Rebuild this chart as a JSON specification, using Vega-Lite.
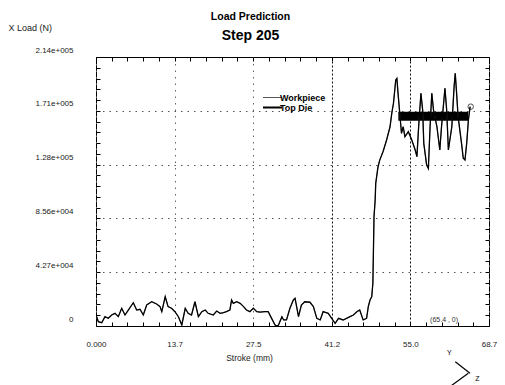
{
  "$schema": "https://vega.github.io/schema/vega-lite/v6.json",
  "width": 393,
  "height": 269,
  "autosize": "none",
  "padding": {"left": 96, "top": 57, "right": 16, "bottom": 59},
  "background": "white",
  "title": {
    "text": "Load Prediction",
    "subtitle": "Step 205",
    "font": "Liberation Sans",
    "fontSize": 10.5,
    "fontWeight": "bold",
    "color": "black",
    "subtitleFont": "Liberation Sans",
    "subtitleFontSize": 14,
    "subtitleFontWeight": "bold",
    "subtitleColor": "black",
    "subtitlePadding": 7,
    "anchor": "middle",
    "frame": "group",
    "dx": -42,
    "offset": -20
  },
  "config": {
    "view": {"stroke": "black", "strokeWidth": 1},
    "axis": {
      "labelFont": "Liberation Sans",
      "labelFontSize": 8,
      "labelColor": "#222",
      "titleFont": "Liberation Sans",
      "titleFontWeight": "normal",
      "titleColor": "#222",
      "tickColor": "black",
      "tickWidth": 1,
      "domain": false,
      "labelOverlap": false,
      "labelFlush": false
    }
  },
  "datasets": {
    "curve": [
      {"stroke": 0.12, "load": 7400}, {"stroke": 0.4, "load": 3400}, {"stroke": 1.0, "load": 2600},
      {"stroke": 1.57, "load": 7400}, {"stroke": 2.15, "load": 6100}, {"stroke": 2.74, "load": 8750},
      {"stroke": 3.32, "load": 10100}, {"stroke": 3.9, "load": 7400}, {"stroke": 4.49, "load": 14100},
      {"stroke": 5.07, "load": 8750}, {"stroke": 5.65, "load": 12700}, {"stroke": 6.52, "load": 18500},
      {"stroke": 7.11, "load": 12700}, {"stroke": 7.69, "load": 13300}, {"stroke": 8.27, "load": 8750},
      {"stroke": 8.86, "load": 16700}, {"stroke": 9.73, "load": 19300}, {"stroke": 10.6, "load": 17500},
      {"stroke": 11.2, "load": 15400}, {"stroke": 11.5, "load": 11400}, {"stroke": 12.1, "load": 23300},
      {"stroke": 12.6, "load": 15400}, {"stroke": 13.2, "load": 14100}, {"stroke": 13.8, "load": 11400},
      {"stroke": 14.4, "load": 7400}, {"stroke": 15.0, "load": 800}, {"stroke": 15.6, "load": 14100},
      {"stroke": 16.1, "load": 10100}, {"stroke": 16.7, "load": 8750}, {"stroke": 17.3, "load": 19300},
      {"stroke": 17.9, "load": 7400}, {"stroke": 18.5, "load": 11400}, {"stroke": 19.1, "load": 12700},
      {"stroke": 19.6, "load": 10100}, {"stroke": 20.5, "load": 8750}, {"stroke": 21.1, "load": 11900},
      {"stroke": 21.7, "load": 10100}, {"stroke": 22.3, "load": 10600}, {"stroke": 22.8, "load": 11400},
      {"stroke": 23.4, "load": 12700}, {"stroke": 23.7, "load": 20700}, {"stroke": 24.0, "load": 18000},
      {"stroke": 24.6, "load": 19300}, {"stroke": 25.2, "load": 18000}, {"stroke": 25.8, "load": 15400},
      {"stroke": 26.3, "load": 12700}, {"stroke": 26.9, "load": 11400}, {"stroke": 27.5, "load": 14100},
      {"stroke": 28.1, "load": 11400}, {"stroke": 28.7, "load": 11100}, {"stroke": 29.5, "load": 11400},
      {"stroke": 30.1, "load": 11400}, {"stroke": 30.7, "load": 6100}, {"stroke": 31.3, "load": 800},
      {"stroke": 31.6, "load": 0}, {"stroke": 31.9, "load": 800}, {"stroke": 32.5, "load": 7400},
      {"stroke": 32.8, "load": 4800}, {"stroke": 33.3, "load": 4800}, {"stroke": 33.9, "load": 14100},
      {"stroke": 34.5, "load": 20700}, {"stroke": 34.8, "load": 22000}, {"stroke": 35.4, "load": 7400},
      {"stroke": 35.9, "load": 16700}, {"stroke": 36.5, "load": 19300}, {"stroke": 37.4, "load": 18900},
      {"stroke": 38.0, "load": 15400}, {"stroke": 38.6, "load": 6100}, {"stroke": 39.2, "load": 4800},
      {"stroke": 39.7, "load": 11400}, {"stroke": 40.6, "load": 10100}, {"stroke": 41.2, "load": 6100},
      {"stroke": 41.8, "load": 2100}, {"stroke": 42.4, "load": 6100}, {"stroke": 43.2, "load": 4800},
      {"stroke": 43.8, "load": 6100}, {"stroke": 44.4, "load": 7400}, {"stroke": 45.0, "load": 8750},
      {"stroke": 45.6, "load": 11400}, {"stroke": 46.1, "load": 12700}, {"stroke": 46.7, "load": 4800},
      {"stroke": 47.3, "load": 6100}, {"stroke": 47.6, "load": 15400}, {"stroke": 47.9, "load": 20700},
      {"stroke": 48.2, "load": 23300}, {"stroke": 48.4, "load": 34000}, {"stroke": 48.5, "load": 60500},
      {"stroke": 48.6, "load": 87000}, {"stroke": 48.8, "load": 100200}, {"stroke": 48.9, "load": 113500},
      {"stroke": 49.3, "load": 126700}, {"stroke": 49.6, "load": 132000}, {"stroke": 50.2, "load": 139000},
      {"stroke": 50.8, "load": 148000}, {"stroke": 51.4, "load": 158500}, {"stroke": 51.7, "load": 169200},
      {"stroke": 52.0, "load": 177200}, {"stroke": 52.4, "load": 195700}, {"stroke": 52.6, "load": 197000},
      {"stroke": 52.8, "load": 185100}, {"stroke": 53.1, "load": 169200}, {"stroke": 53.4, "load": 153300},
      {"stroke": 53.7, "load": 158500}, {"stroke": 54.0, "load": 150600}, {"stroke": 54.6, "load": 154600},
      {"stroke": 55.2, "load": 148000}, {"stroke": 55.8, "load": 140000}, {"stroke": 56.1, "load": 134700},
      {"stroke": 56.4, "load": 158500}, {"stroke": 56.8, "load": 185100}, {"stroke": 57.1, "load": 171800},
      {"stroke": 57.3, "load": 145300}, {"stroke": 57.8, "load": 128100}, {"stroke": 58.1, "load": 125400},
      {"stroke": 58.4, "load": 158500}, {"stroke": 58.7, "load": 185100}, {"stroke": 59.0, "load": 171800},
      {"stroke": 59.6, "load": 158500}, {"stroke": 60.1, "load": 140000}, {"stroke": 60.4, "load": 158500},
      {"stroke": 61.0, "load": 189100}, {"stroke": 61.3, "load": 171800}, {"stroke": 61.6, "load": 140000},
      {"stroke": 62.2, "load": 158500}, {"stroke": 62.6, "load": 190400}, {"stroke": 62.8, "load": 201000},
      {"stroke": 63.0, "load": 187700}, {"stroke": 63.3, "load": 166500}, {"stroke": 63.9, "load": 145300},
      {"stroke": 64.2, "load": 133400}, {"stroke": 64.5, "load": 132000}, {"stroke": 64.8, "load": 145300},
      {"stroke": 65.1, "load": 163900}, {"stroke": 65.4, "load": 174500}
    ],
    "endpoint": [{"stroke": 65.5, "load": 174500}],
    "bar": [{"x1": 52.85, "x2": 65.08, "y1": 163300, "y2": 170500}],
    "note": [{"stroke": 58.4, "load": 4400, "label": "(65.4 , 0)"}],
    "triadLines": [
      {"xa": 62.81, "ya": -28400, "xb": 65.38, "yb": -37600},
      {"xa": 65.08, "ya": -37600, "xb": 61.5, "yb": -49500}
    ],
    "triadText": [
      {"stroke": 61.76, "load": -21700, "label": "Y"},
      {"stroke": 66.65, "load": -42400, "label": "Z"}
    ]
  },
  "resolve": {"axis": {"x": "independent", "y": "independent"}},
  "layer": [
    {
      "data": {"name": "curve"},
      "mark": {"type": "point", "opacity": 0},
      "encoding": {
        "x": {
          "field": "stroke", "type": "quantitative",
          "scale": {"domain": [0, 68.7], "nice": false, "zero": false},
          "axis": {
            "orient": "bottom",
            "values": [0, 2.748, 5.496, 8.244, 10.992, 13.74, 16.488, 19.236, 21.984, 24.732, 27.48, 30.228, 32.976, 35.724, 38.472, 41.22, 43.968, 46.716, 49.464, 52.212, 54.96, 57.708, 60.456, 63.204, 65.952, 68.7],
            "labelExpr": "abs(datum.value) < 0.01 ? '0.000' : abs(datum.value - 13.74) < 0.01 ? '13.7' : abs(datum.value - 27.48) < 0.01 ? '27.5' : abs(datum.value - 41.22) < 0.01 ? '41.2' : abs(datum.value - 54.96) < 0.01 ? '55.0' : abs(datum.value - 68.7) < 0.01 ? '68.7' : ''",
            "tickSize": -4,
            "labelPadding": 18,
            "title": "Stroke (mm)",
            "titleFontSize": 8.5,
            "titleX": 153,
            "titleY": 31,
            "titleBaseline": "middle",
            "titleAlign": "center",
            "grid": true,
            "gridOpacity": {"condition": {"test": "abs(datum.value - 13.74 * round(datum.value / 13.74)) < 0.01", "value": 1}, "value": 0},
            "gridColor": {"condition": {"test": "abs(datum.value - 41.22) < 0.01 || abs(datum.value - 54.96) < 0.01", "value": "#111"}, "value": "#666"},
            "gridDash": {"condition": {"test": "abs(datum.value - 41.22) < 0.01 || abs(datum.value - 54.96) < 0.01", "value": [2, 2]}, "value": [1.5, 5]},
            "gridWidth": 1
          }
        },
        "y": {
          "field": "load", "type": "quantitative",
          "scale": {"domain": [0, 214000], "nice": false, "zero": false},
          "axis": {
            "orient": "left",
            "values": [0, 8560, 17120, 25680, 34240, 42800, 51360, 59920, 68480, 77040, 85600, 94160, 102720, 111280, 119840, 128400, 136960, 145520, 154080, 162640, 171200, 179760, 188320, 196880, 205440, 214000],
            "labelExpr": "datum.value == 0 ? '0' : datum.value == 42800 ? '4.27e+004' : datum.value == 85600 ? '8.56e+004' : datum.value == 128400 ? '1.28e+005' : datum.value == 171200 ? '1.71e+005' : datum.value == 214000 ? '2.14e+005' : ''",
            "tickSize": -4,
            "labelPadding": 27,
            "labelOffset": -7,
            "title": "X Load (N)",
            "titleFontSize": 9,
            "titleAngle": 0,
            "titleX": -88,
            "titleY": -30,
            "titleAlign": "left",
            "titleBaseline": "middle",
            "grid": true,
            "gridOpacity": {"condition": {"test": "datum.value == 42800 || datum.value == 85600 || datum.value == 128400 || datum.value == 171200", "value": 1}, "value": 0},
            "gridColor": "#555",
            "gridDash": [1.5, 5],
            "gridWidth": 1
          }
        }
      }
    },
    {
      "data": {"name": "curve"},
      "mark": {"type": "point", "opacity": 0},
      "encoding": {
        "x": {
          "field": "stroke", "type": "quantitative",
          "scale": {"domain": [0, 68.7], "nice": false, "zero": false},
          "axis": {
            "orient": "top",
            "values": [0, 2.748, 5.496, 8.244, 10.992, 13.74, 16.488, 19.236, 21.984, 24.732, 27.48, 30.228, 32.976, 35.724, 38.472, 41.22, 43.968, 46.716, 49.464, 52.212, 54.96, 57.708, 60.456, 63.204, 65.952, 68.7],
            "labels": false, "title": null, "grid": false, "tickSize": -4
          }
        },
        "y": {
          "field": "load", "type": "quantitative",
          "scale": {"domain": [0, 214000], "nice": false, "zero": false},
          "axis": {
            "orient": "right",
            "values": [0, 8560, 17120, 25680, 34240, 42800, 51360, 59920, 68480, 77040, 85600, 94160, 102720, 111280, 119840, 128400, 136960, 145520, 154080, 162640, 171200, 179760, 188320, 196880, 205440, 214000],
            "labels": false, "title": null, "grid": false, "tickSize": -4
          }
        }
      }
    },
    {
      "data": {"name": "bar"},
      "mark": {"type": "rect", "color": "black"},
      "encoding": {
        "x": {"field": "x1", "type": "quantitative", "scale": {"domain": [0, 68.7], "nice": false, "zero": false}, "axis": null},
        "x2": {"field": "x2"},
        "y": {"field": "y1", "type": "quantitative", "scale": {"domain": [0, 214000], "nice": false, "zero": false}, "axis": null},
        "y2": {"field": "y2"}
      }
    },
    {
      "data": {"name": "curve"},
      "mark": {"type": "line", "strokeWidth": 0.8},
      "encoding": {
        "x": {"field": "stroke", "type": "quantitative", "scale": {"domain": [0, 68.7], "nice": false, "zero": false}, "axis": null},
        "y": {"field": "load", "type": "quantitative", "scale": {"domain": [0, 214000], "nice": false, "zero": false}, "axis": null},
        "color": {
          "datum": "Workpiece", "type": "nominal",
          "scale": {"domain": ["Workpiece", "Top Die"], "range": ["#555555", "black"]},
          "legend": {
            "orient": "none",
            "legendX": 172,
            "legendY": 36,
            "title": null,
            "symbolType": "stroke",
            "symbolSize": 361,
            "symbolStrokeWidth": 1,
            "labelFont": "Liberation Sans",
            "labelFontWeight": "bold",
            "labelFontSize": 9,
            "labelColor": "black",
            "labelOffset": 3,
            "rowPadding": -1,
            "padding": 0,
            "encode": {"symbols": {"update": {"strokeWidth": {"signal": "datum.value === 'Top Die' ? 2 : 1"}}}}
          }
        }
      }
    },
    {
      "data": {"name": "curve"},
      "mark": {"type": "line", "strokeWidth": 1.3},
      "encoding": {
        "x": {"field": "stroke", "type": "quantitative", "scale": {"domain": [0, 68.7], "nice": false, "zero": false}, "axis": null},
        "y": {"field": "load", "type": "quantitative", "scale": {"domain": [0, 214000], "nice": false, "zero": false}, "axis": null},
        "color": {"datum": "Top Die", "type": "nominal"}
      }
    },
    {
      "data": {"name": "endpoint"},
      "mark": {"type": "point", "shape": "circle", "filled": false, "size": 30, "color": "black", "strokeWidth": 1},
      "encoding": {
        "x": {"field": "stroke", "type": "quantitative", "scale": {"domain": [0, 68.7], "nice": false, "zero": false}, "axis": null},
        "y": {"field": "load", "type": "quantitative", "scale": {"domain": [0, 214000], "nice": false, "zero": false}, "axis": null}
      }
    },
    {
      "data": {"name": "note"},
      "mark": {"type": "text", "align": "left", "baseline": "middle", "font": "Liberation Sans", "fontSize": 7, "color": "#333"},
      "encoding": {
        "x": {"field": "stroke", "type": "quantitative", "scale": {"domain": [0, 68.7], "nice": false, "zero": false}, "axis": null},
        "y": {"field": "load", "type": "quantitative", "scale": {"domain": [0, 214000], "nice": false, "zero": false}, "axis": null},
        "text": {"field": "label"}
      }
    },
    {
      "data": {"name": "triadLines"},
      "mark": {"type": "rule", "color": "black", "strokeWidth": 1.2, "clip": false},
      "encoding": {
        "x": {"field": "xa", "type": "quantitative", "scale": {"domain": [0, 68.7], "nice": false, "zero": false}, "axis": null},
        "y": {"field": "ya", "type": "quantitative", "scale": {"domain": [0, 214000], "nice": false, "zero": false}, "axis": null},
        "x2": {"field": "xb"},
        "y2": {"field": "yb"}
      }
    },
    {
      "data": {"name": "triadText"},
      "mark": {"type": "text", "align": "center", "baseline": "middle", "font": "Liberation Sans", "fontSize": 7, "color": "black", "clip": false},
      "encoding": {
        "x": {"field": "stroke", "type": "quantitative", "scale": {"domain": [0, 68.7], "nice": false, "zero": false}, "axis": null},
        "y": {"field": "load", "type": "quantitative", "scale": {"domain": [0, 214000], "nice": false, "zero": false}, "axis": null},
        "text": {"field": "label"}
      }
    }
  ]
}
